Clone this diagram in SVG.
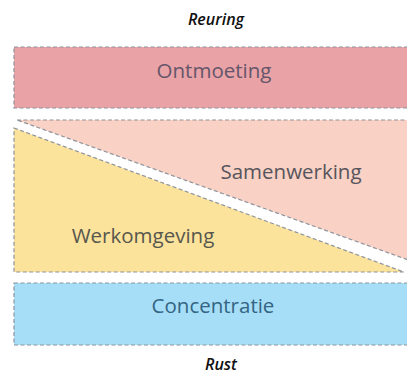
<svg xmlns="http://www.w3.org/2000/svg" width="407" height="374" viewBox="0 0 407 374">
<style>
.zone{stroke:#8e939c;stroke-width:1.2;stroke-dasharray:4 2.5}
.lbl{font-family:"Open Sans","DejaVu Sans",sans-serif;font-size:20.5px;font-weight:500;text-anchor:middle}
.cap{font-family:"Open Sans","DejaVu Sans",sans-serif;font-size:16px;font-style:italic;font-weight:600;text-anchor:middle;fill:#111}
</style>
<rect width="407" height="374" fill="#fff"/>
<text class="cap" x="216" y="25">Reuring</text>
<g id="ontmoeting">
<rect class="zone" x="14" y="47" width="400" height="61" fill="#e9a2a6"/>
<text class="lbl" x="214" y="78" fill="#65566a">Ontmoeting</text>
</g>
<g id="samenwerking">
<polygon class="zone" points="17,120 414,120 414,262" fill="#f9d1c5"/>
<text class="lbl" x="291" y="179" fill="#57555b">Samenwerking</text>
</g>
<g id="werkomgeving">
<polygon class="zone" points="14,128 404,272 14,272" fill="#fbe39c"/>
<text class="lbl" x="143" y="243" fill="#57574d">Werkomgeving</text>
</g>
<g id="concentratie">
<rect class="zone" x="14" y="283" width="400" height="62" fill="#a6def7"/>
<text class="lbl" x="213" y="313" fill="#346583">Concentratie</text>
</g>
<text class="cap" x="221" y="370">Rust</text>
</svg>
